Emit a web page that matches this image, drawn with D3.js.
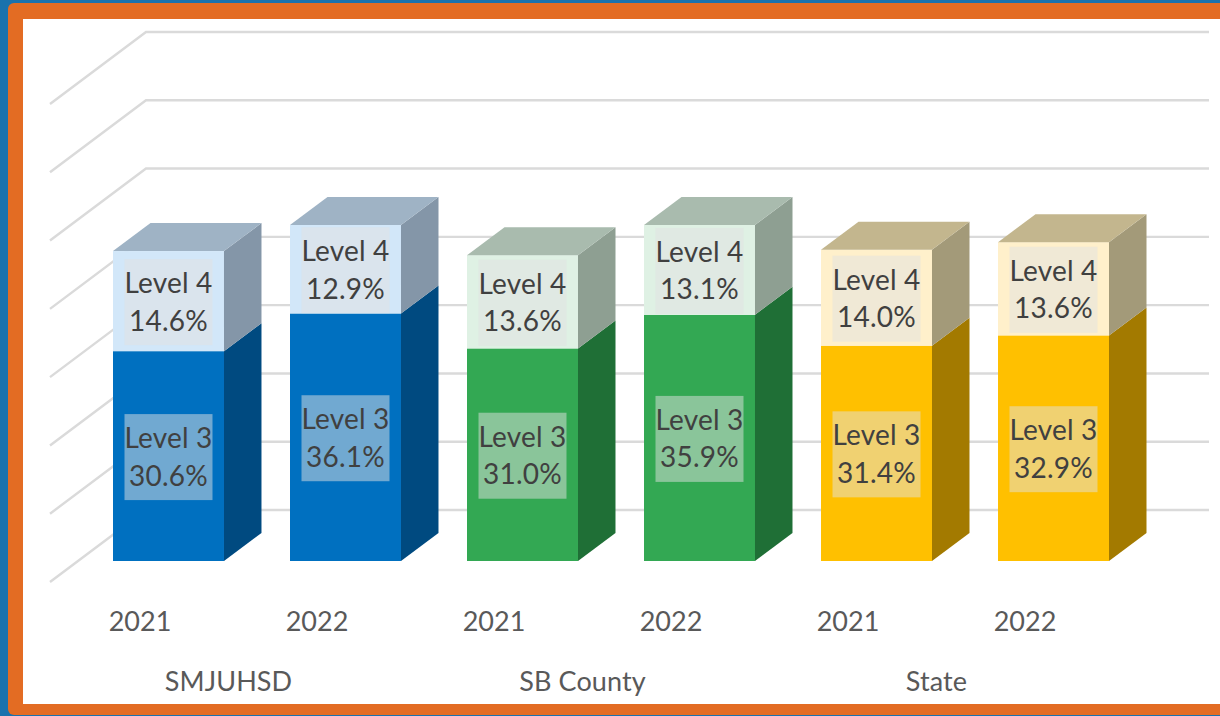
<!DOCTYPE html>
<html><head><meta charset="utf-8">
<script src="https://cdn.jsdelivr.net/npm/d3@7"></script>
<style>html,body{margin:0;padding:0;background:#1a72ad}svg{display:block}text{font-family:Lato,sans-serif}</style>
</head><body><svg id="c" width="1220" height="716"></svg>
<script>
const groups = ["SMJUHSD","SB County","State"];
const years = ["2021","2022","2021","2022","2021","2022"];
const groupOf = [0,0,1,1,2,2];
const level3 = [30.6,36.1,31.0,35.9,31.4,32.9];
const level4 = [14.6,12.9,13.6,13.1,14.0,13.6];
const ticks = [0,10,20,30,40,50,60,70];
const seriesNames = ["Level 3","Level 4"];
const frontCol = [["#0070c0","#d2e7f9"],["#33a853","#dff1e4"],["#ffc000","#fff0cb"]];
const sideCol = [["#004a80","#8496a8"],["#1f6f36","#8e9f92"],["#a37a00","#a39a79"]];
const topCol = ["#9fb3c5","#a9bbae","#c3b68e"];

const svg = d3.select("#c");
svg.append("rect").attr("x",8).attr("y",3).attr("width",1240).attr("height",712).attr("rx",6).attr("fill","#e36c23");
svg.append("rect").attr("x",23).attr("y",19).attr("width",1197).attr("height",685).attr("fill","#fff");

const yBack = d3.scaleLinear().domain([0,70]).range([510,32]);
const yFront = d3.scaleLinear().domain([0,70]).range([561,81]);
const x = d3.scaleBand().domain(d3.range(6)).range([24.5,1197.5]).paddingInner(0.373).paddingOuter(0.5);
const wallDx = 96, wallDy = 72, dx = 37.5, dy = 28, backRight = 1209, backLeft = 146;

const grid = svg.append("g").attr("fill","none").attr("stroke","#dadada").attr("stroke-width",2.4);
grid.selectAll("path").data(ticks).join("path")
  .attr("d",t=>d3.line()([[backLeft-wallDx,yBack(t)+wallDy],[backLeft,yBack(t)],[backRight,yBack(t)]]));

const bars = svg.append("g").selectAll("g").data(d3.range(6)).join("g");
bars.each(function(i){
  const g = d3.select(this), c = groupOf[i], x0 = x(i), x1 = x0 + x.bandwidth();
  const stops = [0, level3[i], level3[i]+level4[i]];
  [0,1].forEach(s=>{
    const yb = yFront(stops[s]), yt = yFront(stops[s+1]);
    g.append("rect").attr("x",x0).attr("y",yt).attr("width",x.bandwidth()).attr("height",yb-yt).attr("fill",frontCol[c][s]);
    g.append("path").attr("fill",sideCol[c][s])
      .attr("d",d3.line()([[x1,yb],[x1+dx,yb-dy],[x1+dx,yt-dy],[x1,yt]]));
  });
  const yt = yFront(stops[2]);
  g.append("path").attr("fill",topCol[c])
    .attr("d",d3.line()([[x0,yt],[x1,yt],[x1+dx,yt-dy],[x0+dx,yt-dy]]));
  [0,1].forEach(s=>{
    const cy = (yFront(stops[s])+yFront(stops[s+1]))/2 + 1;
    const cx = x0 + x.bandwidth()/2;
    const val = s===0 ? level3[i] : level4[i];
    g.append("rect").attr("x",cx-44).attr("y",cy-43).attr("width",88).attr("height",86)
      .attr("fill","#e1e1e1").attr("opacity",0.5);
    g.append("text").attr("x",cx).attr("y",cy-9).attr("text-anchor","middle").attr("font-size",28).attr("letter-spacing",0.2).attr("fill","#404040").text(seriesNames[s]);
    g.append("text").attr("x",cx).attr("y",cy+28.5).attr("text-anchor","middle").attr("font-size",28).attr("letter-spacing",0.2).attr("fill","#404040").text(val.toFixed(1)+"%");
  });
});

const labelShift = -28.5;
svg.append("g").selectAll("text").data(years).join("text")
  .attr("x",(d,i)=>x(i)+x.bandwidth()/2+labelShift).attr("y",631).attr("text-anchor","middle").attr("font-size",27).attr("fill","#595959").text(d=>d);
svg.append("g").selectAll("text").data(groups).join("text")
  .attr("x",(d,i)=>d3.mean([x(i*2),x(i*2+1)])+x.bandwidth()/2+labelShift).attr("y",691).attr("text-anchor","middle").attr("font-size",27).attr("letter-spacing",0.1).attr("fill","#595959").text(d=>d);
</script></body></html>
